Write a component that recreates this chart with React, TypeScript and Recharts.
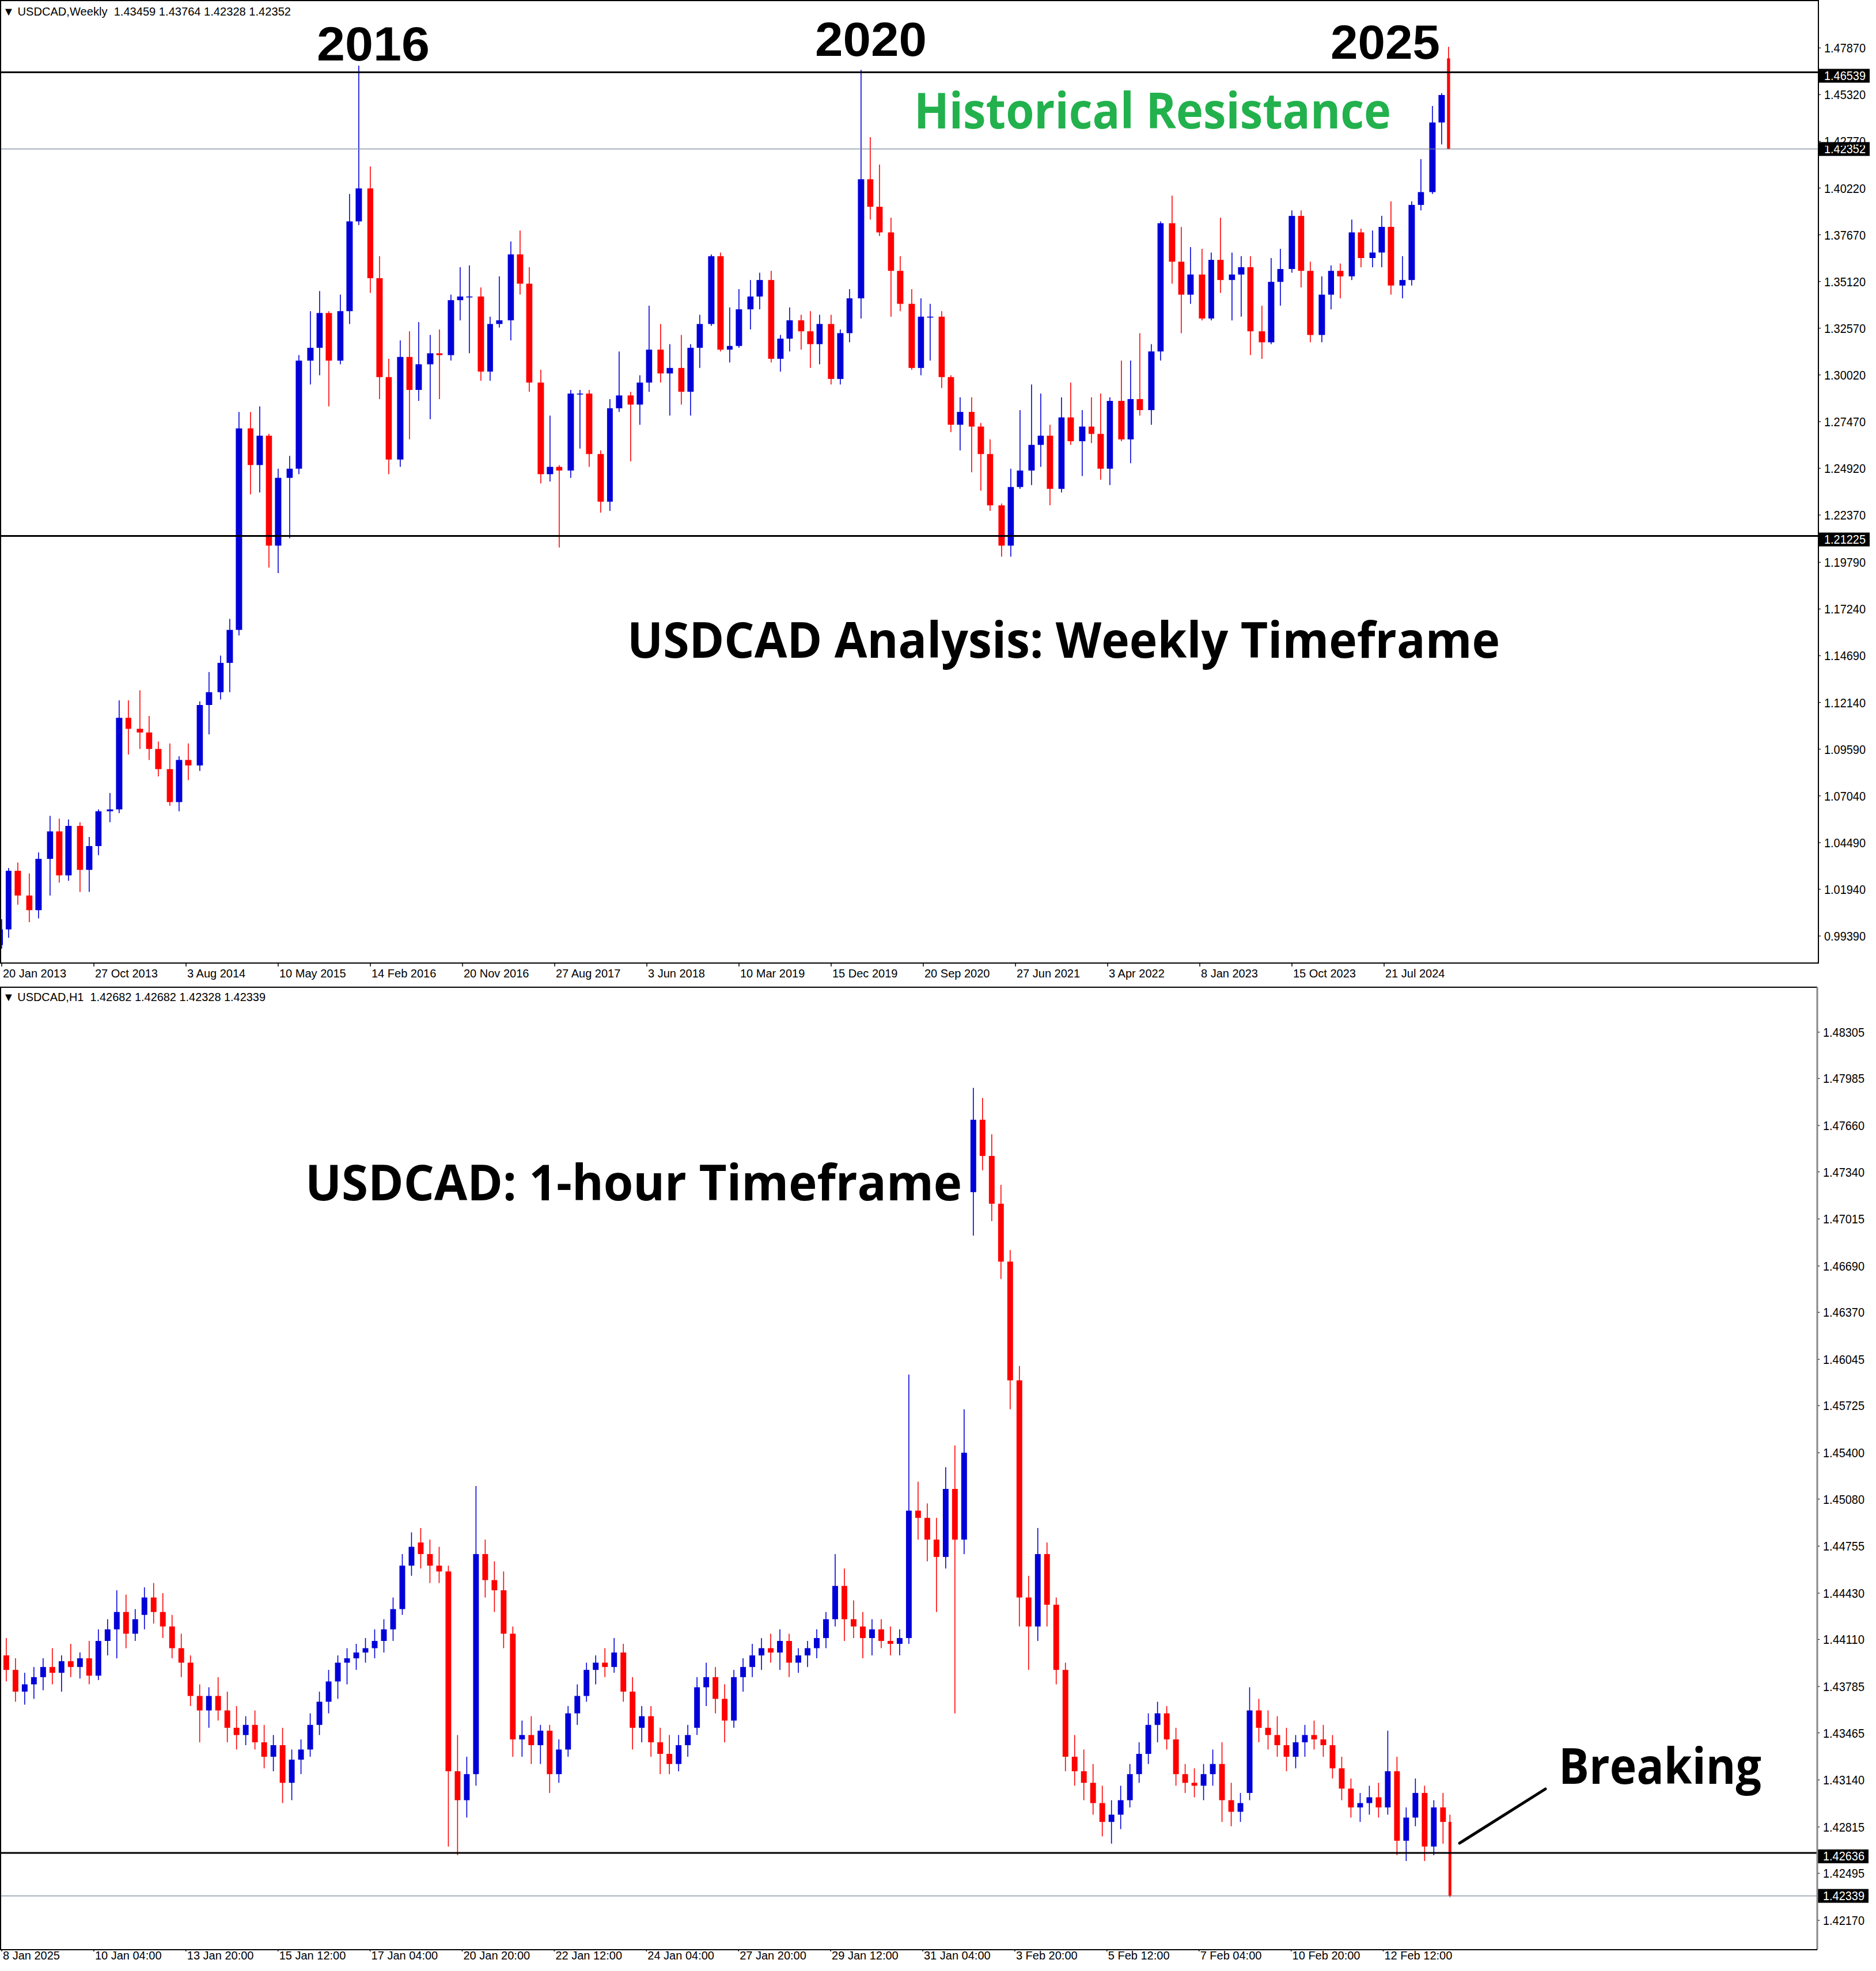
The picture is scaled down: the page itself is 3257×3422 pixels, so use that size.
import React from 'react';
import { ComposedChart, Bar, XAxis, YAxis, ReferenceLine } from 'recharts';

const FONT_AXIS = "'Liberation Sans', Arial, sans-serif";
const FONT_BOLD = "'Open Sans', 'Noto Sans', sans-serif";
const BULL = '#0000d8';
const BEAR = '#ff0000';
const SLOT_PX = 4;

// ================= Weekly panel: monthly candles, Jan 2013 .. Feb 2025 =================
const weeklyOpen = [
  0.9890, 0.9975, 1.0295, 1.0160, 1.0080, 1.0360, 1.0510, 1.0270, 1.0540, 1.0300, 1.0430, 1.0620,
  1.0630, 1.1130, 1.1070, 1.1050, 1.0960, 1.0850, 1.0670, 1.0900, 1.0870, 1.1200, 1.1270, 1.1430,
  1.1610, 1.2710, 1.2510, 1.2670, 1.2070, 1.2440, 1.2490, 1.3080, 1.3150, 1.3340, 1.3080, 1.3350,
  1.3840, 1.4020, 1.3530, 1.2990, 1.2540, 1.3100, 1.2920, 1.3060, 1.3120, 1.3110, 1.3410, 1.3430,
  1.3430, 1.3020, 1.3280, 1.3300, 1.3660, 1.3500, 1.2960, 1.2460, 1.2500, 1.2480, 1.2900, 1.2900,
  1.2570, 1.2310, 1.2820, 1.2890, 1.2840, 1.2960, 1.3140, 1.3010, 1.3040, 1.2910, 1.3150, 1.3280,
  1.3650, 1.3140, 1.3160, 1.3360, 1.3430, 1.3520, 1.3090, 1.3200, 1.3300, 1.3240, 1.3170, 1.3280,
  1.2980, 1.3230, 1.3420, 1.4070, 1.3920, 1.3780, 1.3570, 1.3390, 1.3040, 1.3320, 1.3320, 1.2990,
  1.2730, 1.2800, 1.2720, 1.2570, 1.2290, 1.2070, 1.2390, 1.2480, 1.2620, 1.2670, 1.2380, 1.2770,
  1.2640, 1.2720, 1.2680, 1.2490, 1.2860, 1.2650, 1.2870, 1.2810, 1.3130, 1.3830, 1.3620, 1.3440,
  1.3550, 1.3310, 1.3630, 1.3520, 1.3550, 1.3590, 1.3240, 1.3180, 1.3510, 1.3580, 1.3870, 1.3570,
  1.3220, 1.3440, 1.3570, 1.3540, 1.3780, 1.3640, 1.3670, 1.3810, 1.3490, 1.3520, 1.3930, 1.4000,
  1.4380, 1.4730,
];
const weeklyHigh = [
  1.0030, 1.0310, 1.0340, 1.0280, 1.0395, 1.0595, 1.0580, 1.0575, 1.0560, 1.0480, 1.0630, 1.0720,
  1.1225, 1.1225, 1.1280, 1.1140, 1.1000, 1.0990, 1.0920, 1.0990, 1.1220, 1.1380, 1.1470, 1.1670,
  1.2800, 1.2800, 1.2830, 1.2680, 1.2490, 1.2560, 1.3110, 1.3350, 1.3460, 1.3350, 1.3440, 1.3990,
  1.4690, 1.4140, 1.3650, 1.3090, 1.3190, 1.3240, 1.3290, 1.3220, 1.3250, 1.3440, 1.3590, 1.3600,
  1.3480, 1.3320, 1.3540, 1.3730, 1.3790, 1.3590, 1.3030, 1.2780, 1.2510, 1.2920, 1.2920, 1.2920,
  1.2590, 1.2870, 1.3130, 1.2910, 1.3000, 1.3380, 1.3280, 1.3170, 1.3220, 1.3170, 1.3330, 1.3660,
  1.3670, 1.3370, 1.3470, 1.3520, 1.3560, 1.3570, 1.3220, 1.3370, 1.3330, 1.3350, 1.3330, 1.3330,
  1.3250, 1.3470, 1.4667, 1.4300, 1.4150, 1.3860, 1.3650, 1.3470, 1.3420, 1.3390, 1.3350, 1.3000,
  1.2880, 1.2880, 1.2740, 1.2650, 1.2300, 1.2490, 1.2810, 1.2950, 1.2900, 1.2730, 1.2880, 1.2960,
  1.2810, 1.2880, 1.2900, 1.2880, 1.3080, 1.3080, 1.3230, 1.3170, 1.3840, 1.3980, 1.3810, 1.3700,
  1.3690, 1.3670, 1.3860, 1.3670, 1.3650, 1.3650, 1.3380, 1.3640, 1.3690, 1.3900, 1.3900, 1.3620,
  1.3540, 1.3600, 1.3610, 1.3850, 1.3800, 1.3790, 1.3870, 1.3950, 1.3650, 1.3950, 1.4180, 1.4470,
  1.4540, 1.4793,
];
const weeklyLow = [
  0.9870, 0.9930, 1.0110, 1.0015, 1.0035, 1.0160, 1.0230, 1.0240, 1.0180, 1.0180, 1.0380, 1.0560,
  1.0610, 1.0930, 1.0960, 1.0900, 1.0810, 1.0650, 1.0620, 1.0790, 1.0840, 1.1040, 1.1230, 1.1270,
  1.1580, 1.2350, 1.2360, 1.1950, 1.1920, 1.2110, 1.2460, 1.2950, 1.3000, 1.2830, 1.3060, 1.3280,
  1.3820, 1.3450, 1.2870, 1.2460, 1.2500, 1.2650, 1.2860, 1.2760, 1.2870, 1.3080, 1.3300, 1.3120,
  1.2970, 1.2970, 1.3260, 1.3190, 1.3440, 1.2910, 1.2410, 1.2420, 1.2060, 1.2440, 1.2600, 1.2500,
  1.2250, 1.2260, 1.2800, 1.2530, 1.2730, 1.2910, 1.2960, 1.2780, 1.2840, 1.2780, 1.3040, 1.3270,
  1.3130, 1.3070, 1.3150, 1.3250, 1.3360, 1.3070, 1.3020, 1.3130, 1.3140, 1.3040, 1.3060, 1.2950,
  1.2950, 1.3180, 1.3310, 1.3850, 1.3760, 1.3320, 1.3350, 1.3030, 1.3000, 1.3080, 1.2930, 1.2690,
  1.2590, 1.2470, 1.2370, 1.2260, 1.2010, 1.2010, 1.2380, 1.2400, 1.2500, 1.2290, 1.2360, 1.2620,
  1.2450, 1.2630, 1.2430, 1.2400, 1.2640, 1.2520, 1.2780, 1.2730, 1.3080, 1.3500, 1.3230, 1.3390,
  1.3300, 1.3300, 1.3450, 1.3300, 1.3320, 1.3110, 1.3090, 1.3170, 1.3380, 1.3560, 1.3480, 1.3180,
  1.3180, 1.3360, 1.3420, 1.3520, 1.3590, 1.3590, 1.3590, 1.3440, 1.3420, 1.3490, 1.3900, 1.3990,
  1.4260, 1.4233,
];
const weeklyClose = [
  0.9975, 1.0295, 1.0160, 1.0080, 1.0360, 1.0510, 1.0270, 1.0540, 1.0300, 1.0430, 1.0620, 1.0630,
  1.1130, 1.1070, 1.1050, 1.0960, 1.0850, 1.0670, 1.0900, 1.0870, 1.1200, 1.1270, 1.1430, 1.1610,
  1.2710, 1.2510, 1.2670, 1.2070, 1.2440, 1.2490, 1.3080, 1.3150, 1.3340, 1.3080, 1.3350, 1.3840,
  1.4020, 1.3530, 1.2990, 1.2540, 1.3100, 1.2920, 1.3060, 1.3120, 1.3110, 1.3410, 1.3430, 1.3430,
  1.3020, 1.3280, 1.3300, 1.3660, 1.3500, 1.2960, 1.2460, 1.2500, 1.2480, 1.2900, 1.2900, 1.2570,
  1.2310, 1.2820, 1.2890, 1.2840, 1.2960, 1.3140, 1.3010, 1.3040, 1.2910, 1.3150, 1.3280, 1.3650,
  1.3140, 1.3160, 1.3360, 1.3430, 1.3520, 1.3090, 1.3200, 1.3300, 1.3240, 1.3170, 1.3280, 1.2980,
  1.3230, 1.3420, 1.4070, 1.3920, 1.3780, 1.3570, 1.3390, 1.3040, 1.3320, 1.3320, 1.2990, 1.2730,
  1.2800, 1.2720, 1.2570, 1.2290, 1.2070, 1.2390, 1.2480, 1.2620, 1.2670, 1.2380, 1.2770, 1.2640,
  1.2720, 1.2680, 1.2490, 1.2860, 1.2650, 1.2870, 1.2810, 1.3130, 1.3830, 1.3620, 1.3440, 1.3550,
  1.3310, 1.3630, 1.3520, 1.3550, 1.3590, 1.3240, 1.3180, 1.3510, 1.3580, 1.3870, 1.3570, 1.3220,
  1.3440, 1.3570, 1.3540, 1.3780, 1.3640, 1.3670, 1.3810, 1.3490, 1.3520, 1.3930, 1.4000, 1.4380,
  1.4530, 1.4235,
];
const weeklyTickLabels = [
  '20 Jan 2013', '27 Oct 2013', '3 Aug 2014', '10 May 2015', '14 Feb 2016', '20 Nov 2016',
  '27 Aug 2017', '3 Jun 2018', '10 Mar 2019', '15 Dec 2019', '20 Sep 2020', '27 Jun 2021',
  '3 Apr 2022', '8 Jan 2023', '15 Oct 2023', '21 Jul 2024',
];
const weeklyPriceTicks = [
  1.4787, 1.4532, 1.4277, 1.4022, 1.3767, 1.3512, 1.3257, 1.3002, 1.2747, 1.2492,
  1.2237, 1.1979, 1.1724, 1.1469, 1.1214, 1.0959, 1.0704, 1.0449, 1.0194, 0.9939,
];

// ================= H1 panel: 4-hour candles, 8 Jan 2025 12:00 .. 13 Feb 2025 17:00 =================
const hourlyOpen = [
  1.4400, 1.4390, 1.4375, 1.4380, 1.4385, 1.4392, 1.4388, 1.4396, 1.4392, 1.4398,
  1.4386, 1.4410, 1.4418, 1.4430, 1.4415, 1.4428, 1.4440, 1.4430, 1.4420, 1.4405,
  1.4395, 1.4372, 1.4362, 1.4372, 1.4362, 1.4350, 1.4345, 1.4352, 1.4340, 1.4330,
  1.4338, 1.4312, 1.4328, 1.4335, 1.4352, 1.4368, 1.4382, 1.4395, 1.4398, 1.4402,
  1.4405, 1.4410, 1.4418, 1.4432, 1.4462, 1.4478, 1.4470, 1.4462, 1.4458, 1.4320,
  1.4300, 1.4318, 1.4470, 1.4452, 1.4445, 1.4415, 1.4342, 1.4345, 1.4338, 1.4348,
  1.4318, 1.4335, 1.4360, 1.4372, 1.4390, 1.4395, 1.4392, 1.4402, 1.4375, 1.4350,
  1.4358, 1.4340, 1.4332, 1.4325, 1.4338, 1.4350, 1.4378, 1.4385, 1.4370, 1.4355,
  1.4385, 1.4392, 1.4400, 1.4405, 1.4402, 1.4410, 1.4395, 1.4400, 1.4405, 1.4412,
  1.4425, 1.4448, 1.4425, 1.4420, 1.4412, 1.4418, 1.4410, 1.4408, 1.4412, 1.4500,
  1.4495, 1.4480, 1.4468, 1.4515, 1.4480, 1.4720, 1.4770, 1.4745, 1.4712, 1.4672,
  1.4590, 1.4440, 1.4420, 1.4470, 1.4435, 1.4390, 1.4330, 1.4320, 1.4312, 1.4298,
  1.4285, 1.4290, 1.4300, 1.4318, 1.4332, 1.4352, 1.4360, 1.4342, 1.4318, 1.4312,
  1.4310, 1.4318, 1.4325, 1.4300, 1.4292, 1.4305, 1.4362, 1.4350, 1.4345, 1.4338,
  1.4330, 1.4340, 1.4345, 1.4342, 1.4338, 1.4322, 1.4308, 1.4295, 1.4298, 1.4302,
  1.4295, 1.4320, 1.4272, 1.4288, 1.4305, 1.4268, 1.4295, 1.4285,
];
const hourlyHigh = [
  1.4412, 1.4398, 1.4388, 1.4392, 1.4398, 1.4405, 1.4400, 1.4408, 1.4402, 1.4410,
  1.4418, 1.4425, 1.4445, 1.4442, 1.4432, 1.4447, 1.4450, 1.4443, 1.4428, 1.4415,
  1.4400, 1.4380, 1.4378, 1.4385, 1.4375, 1.4365, 1.4358, 1.4362, 1.4352, 1.4345,
  1.4350, 1.4335, 1.4342, 1.4360, 1.4375, 1.4390, 1.4400, 1.4405, 1.4408, 1.4412,
  1.4418, 1.4425, 1.4440, 1.4470, 1.4485, 1.4488, 1.4480, 1.4475, 1.4462, 1.4345,
  1.4330, 1.4517, 1.4480, 1.4465, 1.4458, 1.4420, 1.4355, 1.4358, 1.4352, 1.4352,
  1.4342, 1.4365, 1.4380, 1.4395, 1.4400, 1.4405, 1.4412, 1.4408, 1.4385, 1.4365,
  1.4365, 1.4350, 1.4345, 1.4345, 1.4352, 1.4385, 1.4395, 1.4392, 1.4380, 1.4390,
  1.4398, 1.4408, 1.4412, 1.4415, 1.4418, 1.4415, 1.4405, 1.4410, 1.4418, 1.4430,
  1.4470, 1.4460, 1.4438, 1.4430, 1.4425, 1.4425, 1.4420, 1.4418, 1.4594, 1.4520,
  1.4505, 1.4495, 1.4530, 1.4545, 1.4570, 1.4792, 1.4785, 1.4760, 1.4725, 1.4680,
  1.4600, 1.4455, 1.4488, 1.4478, 1.4440, 1.4395, 1.4345, 1.4335, 1.4325, 1.4310,
  1.4300, 1.4310, 1.4325, 1.4340, 1.4360, 1.4368, 1.4365, 1.4350, 1.4325, 1.4322,
  1.4325, 1.4335, 1.4340, 1.4312, 1.4305, 1.4378, 1.4370, 1.4362, 1.4358, 1.4350,
  1.4345, 1.4352, 1.4355, 1.4352, 1.4345, 1.4330, 1.4315, 1.4305, 1.4310, 1.4312,
  1.4348, 1.4330, 1.4295, 1.4315, 1.4310, 1.4300, 1.4305, 1.4290,
];
const hourlyLow = [
  1.4382, 1.4368, 1.4366, 1.4370, 1.4376, 1.4380, 1.4375, 1.4385, 1.4384, 1.4380,
  1.4383, 1.4400, 1.4398, 1.4405, 1.4410, 1.4418, 1.4422, 1.4412, 1.4398, 1.4385,
  1.4365, 1.4340, 1.4350, 1.4355, 1.4340, 1.4335, 1.4338, 1.4335, 1.4322, 1.4320,
  1.4298, 1.4300, 1.4318, 1.4330, 1.4345, 1.4360, 1.4370, 1.4380, 1.4390, 1.4395,
  1.4398, 1.4402, 1.4410, 1.4428, 1.4455, 1.4460, 1.4450, 1.4450, 1.4268, 1.4262,
  1.4288, 1.4310, 1.4440, 1.4430, 1.4405, 1.4330, 1.4330, 1.4325, 1.4325, 1.4305,
  1.4312, 1.4330, 1.4352, 1.4368, 1.4380, 1.4385, 1.4388, 1.4368, 1.4335, 1.4340,
  1.4330, 1.4318, 1.4318, 1.4320, 1.4330, 1.4345, 1.4365, 1.4360, 1.4340, 1.4350,
  1.4375, 1.4385, 1.4390, 1.4395, 1.4390, 1.4385, 1.4388, 1.4392, 1.4398, 1.4405,
  1.4420, 1.4410, 1.4412, 1.4398, 1.4400, 1.4405, 1.4400, 1.4400, 1.4408, 1.4480,
  1.4465, 1.4430, 1.4460, 1.4360, 1.4470, 1.4690, 1.4735, 1.4700, 1.4660, 1.4570,
  1.4420, 1.4390, 1.4410, 1.4420, 1.4380, 1.4320, 1.4310, 1.4300, 1.4290, 1.4275,
  1.4270, 1.4280, 1.4295, 1.4312, 1.4325, 1.4340, 1.4335, 1.4310, 1.4305, 1.4302,
  1.4300, 1.4310, 1.4285, 1.4282, 1.4285, 1.4300, 1.4340, 1.4335, 1.4330, 1.4320,
  1.4322, 1.4330, 1.4335, 1.4330, 1.4315, 1.4300, 1.4288, 1.4285, 1.4290, 1.4288,
  1.4290, 1.4262, 1.4258, 1.4282, 1.4258, 1.4262, 1.4270, 1.4233,
];
const hourlyClose = [
  1.4390, 1.4375, 1.4380, 1.4385, 1.4392, 1.4388, 1.4396, 1.4392, 1.4398, 1.4386,
  1.4410, 1.4418, 1.4430, 1.4415, 1.4425, 1.4440, 1.4430, 1.4420, 1.4405, 1.4395,
  1.4372, 1.4362, 1.4372, 1.4362, 1.4350, 1.4345, 1.4352, 1.4340, 1.4330, 1.4338,
  1.4312, 1.4328, 1.4335, 1.4352, 1.4368, 1.4382, 1.4395, 1.4398, 1.4402, 1.4405,
  1.4410, 1.4418, 1.4432, 1.4462, 1.4475, 1.4470, 1.4462, 1.4458, 1.4320, 1.4300,
  1.4318, 1.4470, 1.4452, 1.4445, 1.4415, 1.4342, 1.4345, 1.4338, 1.4348, 1.4318,
  1.4335, 1.4360, 1.4372, 1.4390, 1.4395, 1.4392, 1.4402, 1.4375, 1.4350, 1.4358,
  1.4340, 1.4332, 1.4325, 1.4338, 1.4345, 1.4378, 1.4385, 1.4370, 1.4355, 1.4385,
  1.4392, 1.4400, 1.4405, 1.4402, 1.4410, 1.4395, 1.4400, 1.4405, 1.4412, 1.4425,
  1.4448, 1.4425, 1.4420, 1.4412, 1.4418, 1.4410, 1.4408, 1.4412, 1.4500, 1.4495,
  1.4480, 1.4468, 1.4515, 1.4480, 1.4540, 1.4770, 1.4745, 1.4712, 1.4672, 1.4590,
  1.4440, 1.4420, 1.4470, 1.4435, 1.4390, 1.4330, 1.4320, 1.4312, 1.4298, 1.4285,
  1.4290, 1.4300, 1.4318, 1.4332, 1.4352, 1.4360, 1.4342, 1.4318, 1.4312, 1.4310,
  1.4318, 1.4325, 1.4300, 1.4292, 1.4298, 1.4362, 1.4350, 1.4345, 1.4338, 1.4330,
  1.4340, 1.4345, 1.4342, 1.4338, 1.4322, 1.4308, 1.4295, 1.4298, 1.4302, 1.4295,
  1.4320, 1.4272, 1.4288, 1.4305, 1.4268, 1.4295, 1.4285, 1.4234,
];
const hourlyTickLabels = [
  '8 Jan 2025', '10 Jan 04:00', '13 Jan 20:00', '15 Jan 12:00', '17 Jan 04:00', '20 Jan 20:00',
  '22 Jan 12:00', '24 Jan 04:00', '27 Jan 20:00', '29 Jan 12:00', '31 Jan 04:00', '3 Feb 20:00',
  '5 Feb 12:00', '7 Feb 04:00', '10 Feb 20:00', '12 Feb 12:00',
];
const hourlyPriceTicks = [
  1.48305, 1.47985, 1.4766, 1.4734, 1.47015, 1.4669, 1.4637, 1.46045, 1.45725, 1.454,
  1.4508, 1.44755, 1.4443, 1.4411, 1.43785, 1.43465, 1.4314, 1.42815, 1.42495, 1.4217,
];

// ================= table building =================
const SLOTS = 789;
const TICK_EVERY = 40;
const DAY = 86400000;

type Row = { slot: number; range?: [number, number]; o?: number; h?: number; l?: number; c?: number; span?: number };

function emptyRows(): Row[] {
  const rows: Row[] = [];
  for (let i = 0; i < SLOTS; i++) rows.push({ slot: i });
  return rows;
}

function buildWeekly(): Row[] {
  const rows = emptyRows();
  const t0 = Date.UTC(2013, 0, 20);
  const tEnd = Date.UTC(2025, 1, 16);
  for (let m = 0; m < weeklyClose.length; m++) {
    const yr = 2013 + Math.floor(m / 12);
    const mo = m % 12;
    const start = Math.max(Date.UTC(yr, mo, 1), t0);
    const end = Math.min(Date.UTC(yr, mo + 1, 1), tEnd);
    const center = (start + end) / 2;
    const slot = Math.round((center - t0) / (7 * DAY) - 0.5);
    const o = weeklyOpen[m], h = weeklyHigh[m], l = weeklyLow[m], c = weeklyClose[m];
    rows[slot] = { slot, range: [l, h], o, h, l, c, span: (end - start) / (7 * DAY) };
  }
  return rows;
}

function buildHourly(): Row[] {
  const rows = emptyRows();
  const totalBars = 630;
  for (let b = 0; b < hourlyClose.length; b++) {
    const start = 4 * b;
    const end = Math.min(4 * b + 4, totalBars);
    const slot = Math.round((start + end - 1) / 2);
    const o = hourlyOpen[b], h = hourlyHigh[b], l = hourlyLow[b], c = hourlyClose[b];
    rows[slot] = { slot, range: [l, h], o, h, l, c, span: end - start };
  }
  return rows;
}

const weeklyRows = buildWeekly();
const hourlyRows = buildHourly();
const tickSlots = weeklyTickLabels.map((_, i) => i * TICK_EVERY);

// ================= drawing helpers =================
function Candle(props: any) {
  const { x, y, width, height, payload } = props;
  if (!payload || payload.h == null || !isFinite(y) || !isFinite(height)) return null;
  const { o, h, l, c, span } = payload;
  const top = Math.min(y, y + height);
  const bot = Math.max(y, y + height);
  const k = h - l > 0 ? (bot - top) / (h - l) : 0;
  const yv = (v: number) => top + (h - v) * k;
  const cx = x + width / 2;
  const col = c >= o ? BULL : BEAR;
  const bw = Math.max(2.5, span * SLOT_PX * 0.62);
  const bTop = yv(Math.max(o, c));
  const bBot = yv(Math.min(o, c));
  return (
    <g>
      <line x1={cx} x2={cx} y1={top} y2={bot} stroke={col} strokeWidth={1.6} />
      <rect x={cx - bw / 2} y={bTop} width={bw} height={Math.max(1.6, bBot - bTop)} fill={col} />
    </g>
  );
}

const makeXTick = (labels: string[], baseline: number, tickLen: number) => (p: any) => {
  const idx = tickSlots.indexOf(Number(p.payload.value));
  if (idx < 0) return <g />;
  return (
    <g>
      <line x1={p.x} x2={p.x} y1={p.y} y2={p.y + tickLen} stroke="#000" strokeWidth={1.5} />
      <text x={p.x + 2} y={p.y + baseline} fontSize={20} fontFamily={FONT_AXIS} fill="#000">
        {labels[idx]}
      </text>
    </g>
  );
};

const YTick = (p: any) => (
  <g>
    <line x1={p.x} x2={p.x + 4} y1={p.y} y2={p.y} stroke="#000" strokeWidth={1.2} />
    <text x={p.x + 10} y={p.y + 8} fontSize={22} fontFamily={FONT_AXIS} fill="#000"
      textLength={72} lengthAdjust="spacingAndGlyphs">
      {Number(p.payload.value).toFixed(5)}
    </text>
  </g>
);

const priceBox = (text: string, dy: number) => (props: any) => {
  const vb = props.viewBox || {};
  const x = (vb.x || 0) + (vb.width || 0) + 1;
  const y = (vb.y || 0) + dy;
  return (
    <g>
      <rect x={x} y={y} width={88} height={24} fill="#000" />
      <text x={x + 9} y={y + 19} fontSize={22} fontFamily={FONT_AXIS} fill="#fff"
        textLength={72} lengthAdjust="spacingAndGlyphs">{text}</text>
    </g>
  );
};

function WeeklyPanel() {
  return (
    <ComposedChart width={3257} height={1712} data={weeklyRows}
      margin={{ top: 1, right: 0, bottom: 0, left: 1 }} barCategoryGap="10%">
      <XAxis dataKey="slot" type="category" ticks={tickSlots} interval={0} height={40}
        tickLine={false} axisLine={false} tickSize={0} tickMargin={0}
        tick={makeXTick(weeklyTickLabels, 25, 6)} />
      <YAxis orientation="right" type="number" domain={[0.97914, 1.504546]} allowDataOverflow
        ticks={weeklyPriceTicks} interval={0} width={100} tickLine={false} axisLine={false}
        tickSize={0} tickMargin={0} tick={YTick} />
      <Bar dataKey="range" shape={Candle} isAnimationActive={false} />
      <ReferenceLine y={1.42352} stroke="#778899" strokeWidth={1.2} label={priceBox('1.42352', -12)} />
      <ReferenceLine y={1.46539} stroke="#000" strokeWidth={3} label={priceBox('1.46539', -6)} />
      <ReferenceLine y={1.21225} stroke="#000" strokeWidth={3} label={priceBox('1.21225', -6)} />
    </ComposedChart>
  );
}

function HourlyPanel() {
  return (
    <ComposedChart width={3257} height={1710} data={hourlyRows}
      margin={{ top: 2, right: 0, bottom: 0, left: 1 }} barCategoryGap="10%">
      <XAxis dataKey="slot" type="category" ticks={tickSlots} interval={0} height={37}
        tickLine={false} axisLine={false} tickSize={0} tickMargin={0}
        tick={makeXTick(hourlyTickLabels, 17, 3)} />
      <YAxis orientation="right" type="number" domain={[1.419674, 1.486153]} allowDataOverflow
        ticks={hourlyPriceTicks} interval={0} width={102} tickLine={false} axisLine={false}
        tickSize={0} tickMargin={0} tick={YTick} />
      <Bar dataKey="range" shape={Candle} isAnimationActive={false} />
      <ReferenceLine y={1.42339} stroke="#778899" strokeWidth={1.2} label={priceBox('1.42339', -12)} />
      <ReferenceLine y={1.42636} stroke="#000" strokeWidth={3} label={priceBox('1.42636', -6)} />
    </ComposedChart>
  );
}

const bigText = (txt: string, x: number, y: number, w: number, fill = '#000', family = FONT_BOLD, size = 86) => (
  <text x={x} y={y} fontSize={size} fontWeight={700} fontFamily={family} fill={fill}
    textLength={w} lengthAdjust="spacingAndGlyphs">{txt}</text>
);

export default function App() {
  return (
    <div style={{ position: 'relative', width: 3257, height: 3422, background: '#fff', overflow: 'hidden' }}>
      <style>{'body{margin:0;background:#fff;}'}</style>
      <div style={{ position: 'absolute', left: 0, top: 0 }}>
        <WeeklyPanel />
      </div>
      <div style={{ position: 'absolute', left: 0, top: 1712 }}>
        <HourlyPanel />
      </div>
      <svg width={3257} height={3422} style={{ position: 'absolute', left: 0, top: 0, pointerEvents: 'none' }}>
        <rect x={1} y={1} width={3156} height={1671} fill="none" stroke="#000" strokeWidth={2} />
        <line x1={0} x2={3155} y1={1714} y2={1714} stroke="#000" strokeWidth={2} />
        <line x1={1} x2={1} y1={1714} y2={3385} stroke="#000" strokeWidth={2} />
        <line x1={3155} x2={3155} y1={1714} y2={3385} stroke="#888" strokeWidth={3} />
        <line x1={0} x2={3155} y1={3385} y2={3385} stroke="#000" strokeWidth={2} />

        <text x={5} y={27} fontSize={20} fontFamily={FONT_AXIS} fill="#000" style={{ whiteSpace: 'pre' }}
          textLength={500} lengthAdjust="spacingAndGlyphs">{'▼ USDCAD,Weekly  1.43459 1.43764 1.42328 1.42352'}</text>
        <text x={5} y={1738} fontSize={20} fontFamily={FONT_AXIS} fill="#000" style={{ whiteSpace: 'pre' }}
          textLength={456} lengthAdjust="spacingAndGlyphs">{'▼ USDCAD,H1  1.42682 1.42682 1.42328 1.42339'}</text>

        {bigText('2016', 550, 105, 196, '#000', FONT_AXIS, 84)}
        {bigText('2020', 1415, 97, 194, '#000', FONT_AXIS, 84)}
        {bigText('2025', 2310, 102, 190, '#000', FONT_AXIS, 84)}
        {bigText('Historical Resistance', 1587, 223, 828, '#22b14c')}
        {bigText('USDCAD Analysis: Weekly Timeframe', 1089, 1142, 1515)}
        {bigText('USDCAD: 1-hour Timeframe', 530, 2084, 1140)}
        {bigText('Breaking', 2706, 3097, 352)}
        <line x1={2534} y1={3200} x2={2683} y2={3106} stroke="#000" strokeWidth={5} strokeLinecap="round" />
      </svg>
    </div>
  );
}
